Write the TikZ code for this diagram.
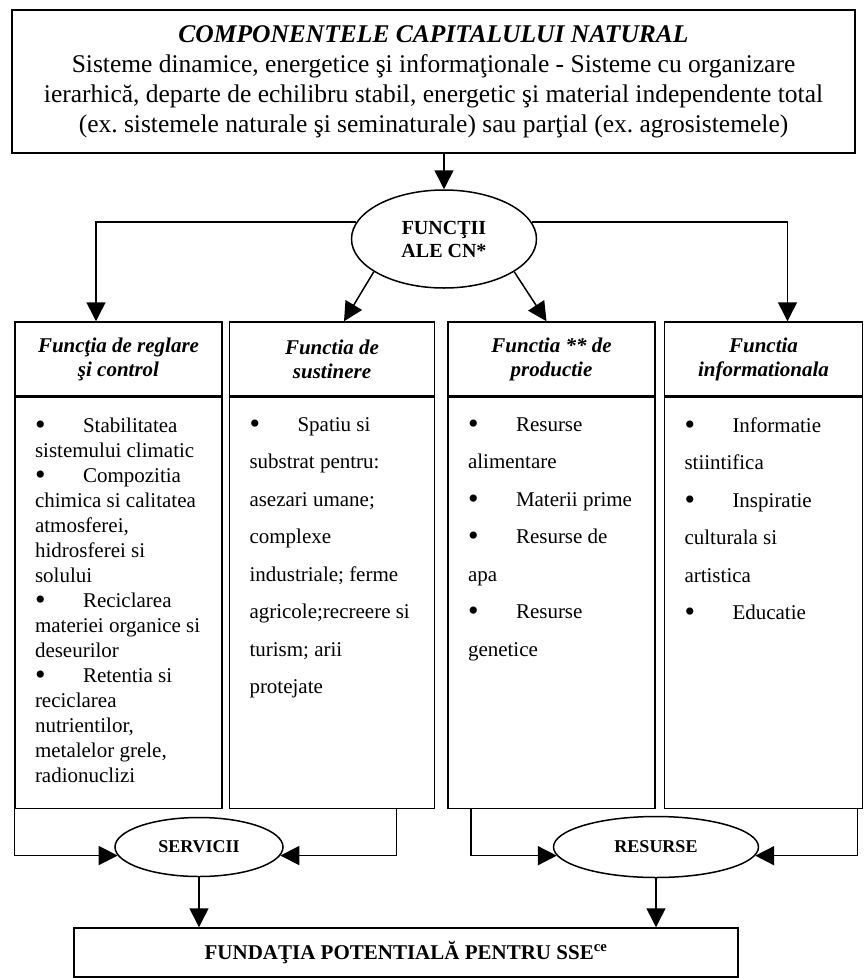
\documentclass[tikz,border=0pt]{standalone}
\usepackage{fontspec}
\setmainfont{Liberation Serif}
\frenchspacing
\usetikzlibrary{shapes.geometric, arrows.meta, positioning}
\tikzset{
  topbox/.style = {
    rectangle, draw=black, line width=1.5pt,
    minimum width=843pt, minimum height=143pt, inner sep=0pt,
    font=\fontsize{25.5}{30}\selectfont, align=center
  },
  headbox/.style = {
    rectangle, draw=black, line width=1.5pt,
    minimum height=74pt, inner sep=0pt,
    font=\fontsize{21}{24}\selectfont\bfseries\itshape, align=center
  },
  bodybox/.style = {
    rectangle, draw=black, line width=1.5pt,
    inner xsep=20pt, inner ysep=20pt,
    font=\fontsize{21}{25}\selectfont
  },
  oval/.style = {
    ellipse, draw=black, line width=1.5pt, inner sep=0pt,
    font=\fontsize{18}{21}\selectfont\bfseries, align=center
  },
  basebox/.style = {
    rectangle, draw=black, line width=1.5pt,
    minimum width=664pt, minimum height=49pt, inner sep=0pt,
    font=\fontsize{21}{24}\selectfont\bfseries
  },
  arrow/.style = {-{Triangle[length=19pt,width=19pt]}, line width=1.5pt}
}
\newcommand{\itm}[1]{\makebox[48pt][l]{\raisebox{-2pt}{\fontsize{30}{25}\selectfont\textbullet}}#1}
\newcommand{\colbody}[2]{\parbox[t][371pt][t]{#1}{\raggedright #2}}

\begin{document}
\begin{tikzpicture}[x=1pt, y=-1pt]
  \useasboundingbox (0,0) rectangle (867,978);

  \node[topbox] (cn) at (433.5,81.5) {%
    \textbf{\textit{COMPONENTELE CAPITALULUI NATURAL}}\\
    Sisteme dinamice, energetice şi informaţionale - Sisteme cu organizare\\
    ierarhică, departe de echilibru stabil, energetic şi material independente total\\
    (ex. sistemele naturale şi seminaturale) sau parţial (ex. agrosistemele)};

  \node[oval, minimum width=185pt, minimum height=98pt,
        font=\fontsize{20}{23}\selectfont\bfseries] (fn) at (444,239) {FUNCŢII\\ALE CN*};

  % capetele coloanelor
  \node[headbox, minimum width=207pt] (h1) at (118.5,359) {Funcţia de reglare\\şi control};
  \node[headbox, minimum width=205pt] (h2) [right=6pt of h1]  {Functia de\\sustinere};
  \node[headbox, minimum width=207pt] (h3) [right=12pt of h2] {Functia ** de\\productie};
  \node[headbox, minimum width=198pt] (h4) [right=8pt of h3]  {Functia\\informationala};

  % continutul coloanelor
  \node[bodybox] (b1) [below=0pt of h1] {\colbody{167pt}{%
    \itm{Stabilitatea}\\ sistemului climatic\\
    \itm{Compozitia}\\ chimica si calitatea\\ atmosferei,\\ hidrosferei si\\ solului\\
    \itm{Reciclarea}\\ materiei organice si\\ deseurilor\\
    \itm{Retentia si}\\ reciclarea\\ nutrientilor,\\ metalelor grele,\\ radionuclizi}};
  \node[bodybox, font=\fontsize{21}{37.5}\selectfont] (b2) [below=0pt of h2] {\colbody{165pt}{%
    \itm{Spatiu si}\\ substrat pentru:\\ asezari umane;\\ complexe\\
    industriale; ferme\\ agricole;recreere si\\ turism; arii\\ protejate}};
  \node[bodybox, font=\fontsize{21}{37.5}\selectfont] (b3) [below=0pt of h3] {\colbody{167pt}{%
    \itm{Resurse}\\ alimentare\\ \itm{Materii prime}\\ \itm{Resurse de}\\ apa\\
    \itm{Resurse}\\ genetice}};
  \node[bodybox, font=\fontsize{21}{37.5}\selectfont] (b4) [below=0pt of h4] {\colbody{158pt}{%
    \itm{Informatie}\\ stiintifica\\ \itm{Inspiratie}\\ culturala si\\ artistica\\
    \itm{Educatie}}};

  \node[oval, minimum width=168pt, minimum height=59pt] (sv) at (199,847) {SERVICII};
  \node[oval, minimum width=205pt, minimum height=61pt] (rs) at (656,847) {RESURSE};
  \node[basebox] (fd) at (406,952.5) {FUNDAŢIA POTENTIALĂ PENTRU SSE\textsuperscript{ce}};

  \draw[arrow] (fn.north |- cn.south) -- (fn.north);
  \draw[arrow] (fn.169) -| ([xshift=-22.5pt]h1.north);
  \draw[arrow] (fn.11)  -| ([xshift=24pt]h4.north);
  \draw[arrow] (fn.205) -- ([xshift=12pt]h2.north);
  \draw[arrow] (fn.-25) -- ([xshift=-5pt]h3.north);

  \draw[arrow] (b1.south west) |- (sv.186);
  \draw[arrow] ([xshift=64.5pt]b2.south) |- (sv.-6);
  \draw[arrow] ([xshift=-80.5pt]b3.south) |- (rs.185);
  \draw[arrow] ([xshift=94pt]b4.south) |- (rs.-5);
  \draw[arrow] (sv.south) -- (sv.south |- fd.north);
  \draw[arrow] (rs.south) -- (rs.south |- fd.north);

\end{tikzpicture}
\end{document}
